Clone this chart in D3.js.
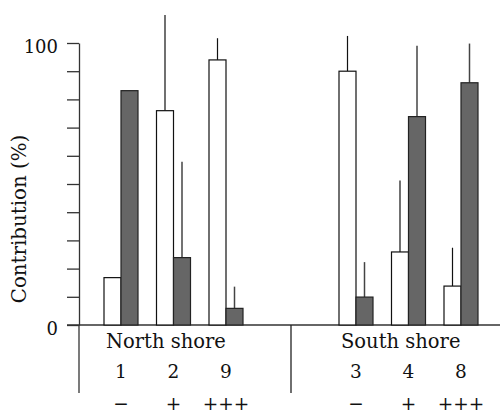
<!DOCTYPE html>
<html>
<head>
<meta charset="utf-8">
<script src="https://cdn.jsdelivr.net/npm/d3@7/dist/d3.min.js"></script>
<style>
  html, body { margin: 0; padding: 0; background: #fff; }
  svg { display: block; }
  text { font-family: "DejaVu Serif", serif; fill: #111; }
</style>
</head>
<body>
<svg id="chart" width="500" height="414"></svg>
<script>
// ---- data ----
const shores = ["North shore", "South shore"];
const sites = [["1", "2", "9"], ["3", "4", "8"]];
const disturbance = ["\u2212", "+", "+++"];
const series = ["white", "dark"];
const whiteValues = [16.8, 76.0, 94.0, 90.0, 25.9, 13.8];
const whiteErrors = [0, 33.9, 7.7, 12.5, 25.3, 13.6];
const darkValues = [83.1, 23.9, 5.9, 9.9, 73.9, 85.9];
const darkErrors = [0, 34.0, 7.7, 12.4, 25.1, 13.9];
const yTicks = [0, 10, 20, 30, 40, 50, 60, 70, 80, 90, 100];
const yLabelTicks = [0, 100];
const yLabel = "Contribution (%)";

// ---- layout ----
const svg = d3.select("#chart");
const y = d3.scaleLinear().domain([0, 100]).range([325, 43]);
const xShore = d3.scalePoint().domain(shores).range([173.5, 408.5]);
const xSite = d3.scalePoint().domain([0, 1, 2]).range([-52.5, 52.5]);
const xSeries = d3.scaleBand().domain(series).range([-17, 17]);
const axisX = 79;

// y axis
const yAxis = d3.axisLeft(y).tickValues(yTicks).tickSize(12).tickSizeOuter(0)
  .tickFormat(d => yLabelTicks.includes(d) ? d : "");
const gy = svg.append("g").attr("transform", `translate(${axisX},0)`).call(yAxis);
gy.select(".domain").attr("stroke", "#333").attr("stroke-width", 1.3);
gy.selectAll(".tick line").attr("stroke", "#333").attr("stroke-width", 1.3);
gy.selectAll(".tick text").attr("font-family", "DejaVu Serif").attr("font-size", 18)
  .attr("fill", "#111").attr("x", -21).attr("dy", "0.5em");
// axis extension below zero
svg.append("line").attr("x1", axisX).attr("x2", axisX).attr("y1", y(0)).attr("y2", 393)
  .attr("stroke", "#333").attr("stroke-width", 1.3);

// baseline
svg.append("line").attr("x1", axisX - 12).attr("x2", 500).attr("y1", y(0)).attr("y2", y(0))
  .attr("stroke", "#333").attr("stroke-width", 1.3);

// divider between shores
const divX = (xShore(shores[0]) + xSite(2) + xShore(shores[1]) + xSite(0)) / 2;
svg.append("line").attr("x1", divX).attr("x2", divX).attr("y1", y(0)).attr("y2", 393)
  .attr("stroke", "#222").attr("stroke-width", 1.3);

// y label
svg.append("text").attr("transform", "translate(26,219) rotate(-90)")
  .attr("text-anchor", "middle").attr("font-size", 19.8).text(yLabel);

// bars
const rows = [];
shores.forEach((s, si) => {
  sites[si].forEach((site, k) => {
    const i = si * 3 + k;
    rows.push({ shore: s, k, site, series: "white", v: whiteValues[i], e: whiteErrors[i] });
    rows.push({ shore: s, k, site, series: "dark", v: darkValues[i], e: darkErrors[i] });
  });
});
const bx = d => xShore(d.shore) + xSite(d.k) + xSeries(d.series);
const bw = xSeries.bandwidth();

svg.append("g").selectAll("line").data(rows.filter(d => d.e > 0)).join("line")
  .attr("x1", d => bx(d) + bw / 2).attr("x2", d => bx(d) + bw / 2)
  .attr("y1", d => y(d.v)).attr("y2", d => y(d.v + d.e))
  .attr("stroke", d => d.series === "white" ? "#111" : "#444")
  .attr("stroke-width", d => d.series === "white" ? 1.2 : 1.5);

svg.append("g").selectAll("rect").data(rows).join("rect")
  .attr("x", d => bx(d)).attr("width", bw)
  .attr("y", d => y(d.v)).attr("height", d => y(0) - y(d.v))
  .attr("fill", d => d.series === "white" ? "#fff" : "#666")
  .attr("stroke", d => d.series === "white" ? "#111" : "#222")
  .attr("stroke-width", 1.2);

// shore labels
shores.forEach((s, si) => {
  svg.append("text").attr("x", xShore(s) + xSite(0) + xSeries("white") + 2).attr("y", 348)
    .attr("font-size", 19.5).text(s);
  sites[si].forEach((site, k) => {
    svg.append("text").attr("x", xShore(s) + xSite(k)).attr("y", 378)
      .attr("text-anchor", "middle").attr("font-size", 18.5).text(site);
    svg.append("text").attr("x", xShore(s) + xSite(k)).attr("y", 409.5)
      .attr("text-anchor", "middle").attr("font-size", 18.5).text(disturbance[k]);
  });
});
</script>
</body>
</html>
